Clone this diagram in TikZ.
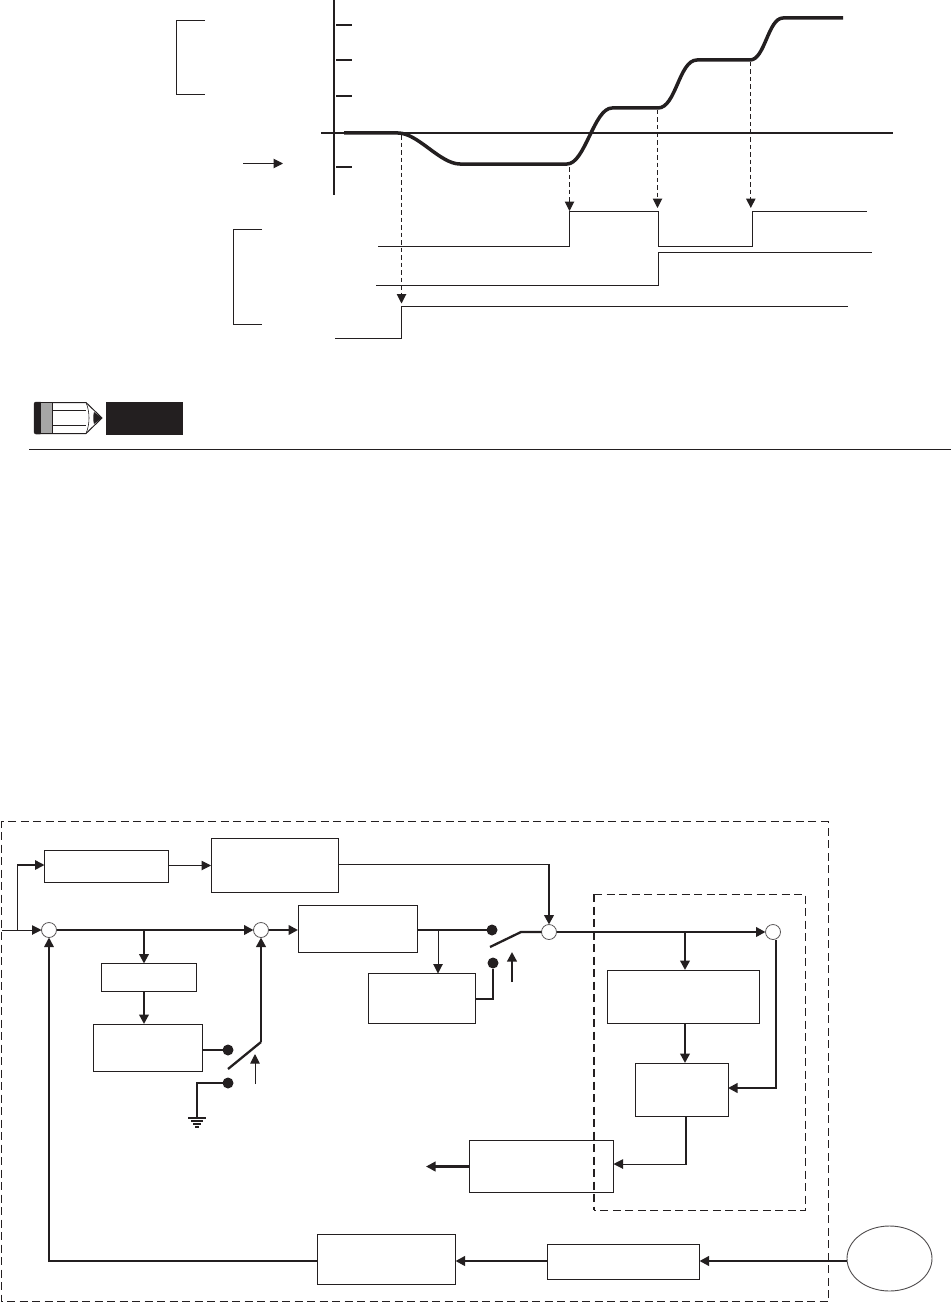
\documentclass[tikz,border=0pt]{standalone}
\usetikzlibrary{arrows.meta,shapes.geometric}
\definecolor{ink}{HTML}{231F20}
\tikzset{
  x=1pt,y=-1pt,
  thinw/.style={draw=ink,line width=1pt},
  medw/.style={draw=ink,line width=1.6pt},
  thickw/.style={draw=ink,line width=2.3pt},
  curvew/.style={draw=ink,line width=3.5pt,line join=round},
  tip/.style={-{Triangle[length=9.5pt,width=9.5pt,color=ink]}},
  bx/.style={draw=ink,line width=1pt,fill=white,rectangle,inner sep=0pt,outer sep=0pt},
  sumj/.style={draw=ink!75,line width=.8pt,fill=white,circle,inner sep=0pt,outer sep=0pt,minimum size=15pt},
  contact/.style={fill=ink,circle,inner sep=0pt,outer sep=0pt,minimum size=11pt},
  frameout/.style={draw=ink,line width=1pt,dash pattern=on 8pt off 4.5pt},
  dropline/.style={draw=ink,line width=1pt,dash pattern=on 4.5pt off 3pt},
}
\begin{document}
\begin{tikzpicture}
\useasboundingbox (0,0) rectangle (951,1303);
% ---- upper timing chart
\draw[thinw] (205,20.5) -- (176.5,20.5) -- (176.5,94.5) -- (205,94.5);
\draw[thinw] (262,229.5) -- (233.5,229.5) -- (233.5,324.5) -- (262,324.5);
\draw[draw=ink,line width=2pt] (334,0) -- (334,195);
\foreach \ty in {25,60,96,167} \draw[draw=ink,line width=1.9pt] (336,\ty) -- (352,\ty);
\draw[medw] (321,133) -- (893,133);
\draw[curvew] (344,133) -- (398,133) .. controls (418,133) and (440,164) .. (460,164) -- (567,164)
  .. controls (585,164) and (594,108) .. (612,108) -- (658,108)
  .. controls (676,108) and (679,60) .. (697,60) -- (750,60)
  .. controls (765,60) and (768,18) .. (783,18) -- (843,18);
\coordinate (arrA) at (243,163.5); \coordinate (arrB) at (283,163.5);
\draw[thinw,tip] (arrA) -- (arrB);
\draw[thinw,line join=miter] (378,246.5) -- (569,246.5) -- (569,211.5) -- (658.5,211.5) -- (658.5,246.5) -- (752,246.5) -- (752,211.5) -- (867,211.5);
\draw[thinw,line join=miter] (376,285.5) -- (658.5,285.5) -- (658.5,252.5) -- (872,252.5);
\draw[thinw,line join=miter] (335,338.5) -- (401.5,338.5) -- (401.5,306.5) -- (848,306.5);
\draw[dropline,tip] (401.5,135) -- (401.5,303.5);
\draw[dropline,tip] (569.5,167) -- (569.5,211);
\draw[dropline,tip] (657.5,110) -- (657.5,208);
\draw[dropline,tip] (750.8,62) -- (750.8,208);
% ---- note pencil
\draw[draw=ink,line width=1pt,fill=white] (36,402.5) -- (86,402.5) -- (102,418) -- (86,433.5) -- (36,433.5) -- cycle;
\draw[fill=ink,draw=ink,rounded corners=2pt] (34,402) rectangle (42,434);
\fill[gray!70] (41,403) rectangle (52,433);
\draw[draw=ink,line width=1pt] (52,402.5) -- (52,433.5);
\draw[draw=ink,line width=1pt] (52,410) -- (86,410) (52,425) -- (86,425);
\draw[draw=ink,line width=.6pt] (86,402.5) .. controls (90,412) and (90,424) .. (86,433.5);
\fill[ink] (94,412) .. controls (93,416) and (93,420) .. (94,424) -- (102,418) -- cycle;
\fill[ink] (106,402) rectangle (183,435);
\draw[thinw] (29,449.5) -- (951,449.5);
% ---- frames
\draw[frameout] (828.5,821.5) -- (1.5,821.5) -- (1.5,1301.5) -- (828.5,1301.5) -- cycle;
% ---- block diagram nodes
\node[bx,minimum width=124pt,minimum height=32pt] (A) at (106.5,866.5) {};
\node[bx,minimum width=127pt,minimum height=54pt] (B) at (274.5,865.5) {};
\node[bx,minimum width=119pt,minimum height=47pt] (C) at (357.5,928.5) {};
\node[bx,minimum width=95pt,minimum height=28pt] (D) at (148.5,977.5) {};
\node[bx,minimum width=109pt,minimum height=47pt] (E) at (147.5,1047.5) {};
\node[bx,minimum width=107pt,minimum height=50pt] (F) at (421.5,998.5) {};
\node[bx,minimum width=152pt,minimum height=53pt] (G) at (683.5,996.5) {};
\node[bx,minimum width=93pt,minimum height=53pt] (H) at (681.5,1089.5) {};
\node[bx,minimum width=144pt,minimum height=52pt] (I) at (541.5,1166.5) {};
\node[bx,minimum width=138pt,minimum height=50pt] (J) at (386.5,1259.5) {};
\node[bx,minimum width=152pt,minimum height=35pt] (K) at (623.5,1261.5) {};
\node[draw=ink!80,line width=.9pt,fill=white,ellipse,inner sep=0pt,outer sep=0pt,minimum width=85pt,minimum height=65pt] (M) at (889.5,1258.5) {};
\node[sumj] (s1) at (49,930) {};
\node[sumj] (s2) at (261,930) {};
\node[sumj] (s3) at (549,932) {};
\node[sumj] (s4) at (773,932) {};
\node[contact] (c1) at (228,1050) {};
\node[contact] (c2) at (228,1083) {};
\node[contact] (c3) at (492,930) {};
\node[contact] (c4) at (493,963) {};
% inner dashed frame
\draw[frameout] (594,894.5) -- (805.5,894.5) -- (805.5,1210.5) -- (594,1210.5);
\draw[draw=ink,line width=2pt,dash pattern=on 8pt off 4.5pt] (594,894) -- (594,1210);
% ---- coordinates of free ends and junctions
\coordinate (in) at (2,930);
\coordinate (j0) at (17.5,930);
\coordinate (j1) at (144,930);
\coordinate (j2) at (438,930);
\coordinate (j3) at (685,932);
\coordinate (sw1a) at (228,1069);
\coordinate (sw1b) at (261,1042);
\coordinate (sw2a) at (490,947);
\coordinate (sw2b) at (521,932);
\coordinate (act1a) at (255,1084);
\coordinate (act1b) at (255,1054);
\coordinate (act2a) at (512,982);
\coordinate (act2b) at (512,952);
\coordinate (out) at (426,1166.5);
\coordinate (gnd) at (197,1117);
% ---- connectors
\draw[thinw,tip] (in) -- (s1.west);
\draw[medw,tip] (j0) -- (17.5,865) -- (A.west|-0,865);
\draw[thinw,tip] (A.east|-B.west) -- (B.west);
\draw[thickw] (s1.east|-j1) -- (j1);
\draw[thickw,tip] (j1) -- (s2.west);
\draw[thickw,tip] (j1) -- (j1|-D.north);
\draw[thickw,tip] (j1|-D.south) -- (j1|-E.north);
\draw[thickw] (E.east|-c1) -- (c1);
\draw[thickw] (c2) -- (197,1083) -- (gnd);
\draw[thickw] (sw1a) -- (sw1b);
\draw[thickw,tip] (sw1b) -- (s2.south);
\draw[thinw,tip] (act1a) -- (act1b);
\draw[thickw,tip] (s2.east) -- (C.west|-s2.east);
\draw[thickw] (C.east|-j2) -- (c3.west);
\draw[thinw,tip] (j2) -- (j2|-F.north);
\draw[thickw] (F.east|-0,999) -- (493,999) -- (c4);
\draw[thickw] (sw2a) -- (sw2b) -- (s3.west);
\draw[thickw,tip] (act2a) -- (act2b);
\draw[thinw] (B.east|-0,864.5) -- (549,864.5);
\draw[thickw,tip] (549,864) -- (s3.north);
\draw[thickw,tip] (s3.east|-j3) -- (s4.west);
\draw[thickw,tip] (j3) -- (j3|-G.north);
\draw[thickw,tip] (j3|-G.south) -- (j3|-H.north);
\draw[medw] (776,940) -- (776,1088);
\draw[thickw,tip] (776.8,1088) -- (H.east|-0,1088);
\draw[thickw] (686,1117) -- (686,1164);
\draw[thinw,tip] (687,1164) -- (I.east|-0,1164);
\draw[thickw,tip] (I.west) -- (out);
\draw[thickw,tip] (M.west|-0,1261) -- (K.east|-0,1261);
\draw[thickw,tip] (K.west|-0,1261) -- (J.east|-0,1261);
\draw[thickw] (J.west|-0,1261) -- (49,1261);
\draw[medw,tip] (49,1262) -- (s1.south);
% ground symbol
\draw[draw=ink,line width=2pt] (188,1117.5) -- (206,1117.5);
\draw[draw=ink,line width=1.8pt] (191,1120.7) -- (203,1120.7);
\draw[draw=ink,line width=1.8pt] (193,1123.9) -- (201,1123.9);
\draw[draw=ink,line width=1.8pt] (195,1127) -- (199,1127);
\end{tikzpicture}
\end{document}
